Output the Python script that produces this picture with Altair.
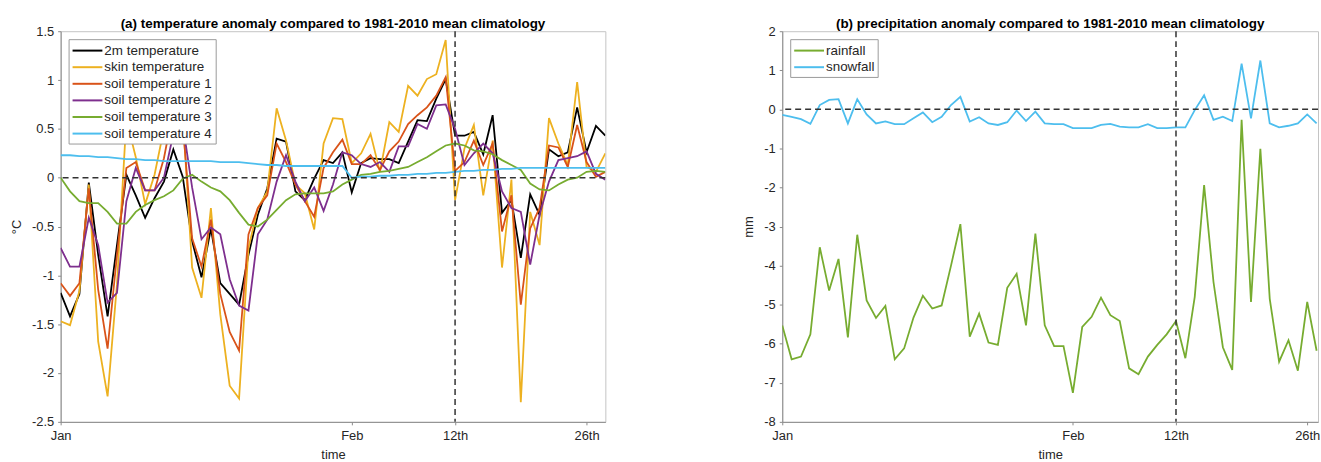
import altair as alt
import pandas as pd

# ---------------- data ----------------
days_t = list(range(59))  # Jan 1 .. Feb 28
t2m = [-1.18, -1.42, -1.19, -0.05, -0.79, -1.42, -0.69, 0.03, -0.18, -0.41,
       -0.21, -0.04, 0.29, 0.01, -0.65, -1.02, -0.52, -1.08, -1.19, -1.30,
       -0.79, -0.38, -0.11, 0.40, 0.37, -0.14, -0.23, -0.01, 0.18, 0.15,
       0.26, -0.15, 0.15, 0.20, 0.19, 0.19, 0.15, 0.37, 0.59, 0.58,
       0.81, 1.01, 0.43, 0.43, 0.47, 0.24, 0.64, -0.36, -0.23, -0.82,
       -0.17, -0.38, 0.29, 0.22, 0.26, 0.72, 0.26, 0.53, 0.43]
skin = [-1.47, -1.51, -1.16, -0.07, -1.68, -2.24, -1.09, 0.60, 0.21, -0.27,
        0.03, 0.50, 0.75, 0.65, -0.92, -1.23, -0.31, -1.40, -2.13, -2.26,
        -0.72, -0.31, -0.14, 0.71, 0.38, -0.07, -0.16, -0.53, 0.35, 0.61,
        0.60, 0.15, 0.25, 0.45, 0.06, 0.57, 0.47, 0.94, 0.84, 1.01,
        1.06, 1.41, -0.23, 0.30, 0.54, -0.18, 0.38, -0.92, -0.02, -2.30,
        -0.35, -0.69, 0.61, 0.35, 0.13, 0.98, 0.11, 0.06, 0.25]
soil1 = [-1.08, -1.21, -1.08, -0.11, -1.15, -1.75, -0.79, 0.10, 0.16, -0.13,
         -0.13, 0.20, 0.70, 0.55, -0.62, -0.91, -0.43, -1.19, -1.58, -1.77,
         -0.58, -0.31, -0.18, 0.35, 0.16, -0.07, -0.24, -0.40, 0.10, 0.26,
         0.39, 0.14, 0.14, 0.23, 0.08, 0.27, 0.37, 0.55, 0.64, 0.72,
         0.84, 1.03, 0.07, 0.16, 0.38, 0.13, 0.35, -0.55, -0.18, -1.30,
         -0.52, -0.31, 0.33, 0.31, 0.11, 0.54, 0.16, 0.01, 0.06]
soil2 = [-0.72, -0.91, -0.91, -0.41, -0.69, -1.28, -1.18, -0.24, 0.10, -0.13,
         -0.13, 0.00, 0.45, 0.55, -0.10, -0.63, -0.51, -0.58, -1.04, -1.31,
         -1.36, -0.58, -0.43, -0.04, 0.23, -0.04, -0.24, -0.10, -0.34, -0.07,
         0.26, 0.23, 0.14, 0.11, 0.16, 0.06, 0.32, 0.32, 0.55, 0.50,
         0.74, 0.75, 0.50, 0.13, 0.25, 0.35, 0.25, -0.14, -0.31, -0.35,
         -0.89, -0.38, -0.04, 0.18, 0.20, 0.22, 0.27, 0.04, -0.02]
soil3 = [0.00, -0.14, -0.24, -0.26, -0.26, -0.35, -0.47, -0.47, -0.35, -0.28,
         -0.23, -0.19, -0.13, -0.01, 0.03, -0.04, -0.10, -0.14, -0.23, -0.36,
         -0.48, -0.50, -0.43, -0.33, -0.23, -0.17, -0.16, -0.16, -0.16, -0.14,
         -0.07, -0.02, 0.03, 0.04, 0.06, 0.07, 0.09, 0.11, 0.16, 0.21,
         0.27, 0.33, 0.35, 0.33, 0.28, 0.27, 0.24, 0.18, 0.13, 0.08,
         -0.06, -0.12, -0.13, -0.07, -0.02, 0.00, 0.06, 0.07, 0.06]
soil4 = [0.23, 0.23, 0.22, 0.22, 0.21, 0.21, 0.20, 0.19, 0.19, 0.18,
         0.18, 0.17, 0.17, 0.17, 0.17, 0.17, 0.17, 0.16, 0.16, 0.16,
         0.15, 0.14, 0.13, 0.13, 0.12, 0.12, 0.12, 0.12, 0.12, 0.12,
         0.12, 0.00, 0.01, 0.01, 0.02, 0.02, 0.03, 0.03, 0.04, 0.04,
         0.05, 0.05, 0.06, 0.07, 0.07, 0.08, 0.08, 0.09, 0.09, 0.10,
         0.10, 0.10, 0.10, 0.10, 0.10, 0.10, 0.10, 0.10, 0.10]

days_p = list(range(58))  # visible part of panel (b)
rainfall = [-5.53, -6.40, -6.33, -5.76, -3.53, -4.64, -3.83, -5.84, -3.21, -4.89,
            -5.34, -5.03, -6.40, -6.12, -5.33, -4.77, -5.10, -5.02, -4.00, -2.94,
            -5.82, -5.23, -5.97, -6.03, -4.57, -4.21, -5.53, -3.18, -5.53, -6.06,
            -6.06, -7.26, -5.57, -5.31, -4.82, -5.27, -5.42, -6.63, -6.78, -6.33,
            -6.03, -5.76, -5.42, -6.37, -4.80, -1.94, -4.42, -6.09, -6.67, -0.27,
            -4.93, -1.01, -4.85, -6.46, -5.91, -6.69, -4.93, -6.18]
snowfall = [-0.14, -0.19, -0.25, -0.37, 0.11, 0.24, 0.26, -0.36, 0.26, -0.13,
            -0.36, -0.31, -0.38, -0.38, -0.23, -0.08, -0.33, -0.19, 0.11, 0.32,
            -0.31, -0.20, -0.36, -0.40, -0.33, -0.03, -0.30, -0.06, -0.36, -0.38,
            -0.38, -0.48, -0.48, -0.48, -0.40, -0.37, -0.44, -0.46, -0.46, -0.38,
            -0.48, -0.48, -0.46, -0.46, -0.02, 0.36, -0.27, -0.19, -0.30, 1.17,
            -0.23, 1.25, -0.36, -0.46, -0.42, -0.36, -0.13, -0.36]

temp_names = ["2m temperature", "skin temperature", "soil temperature 1",
              "soil temperature 2", "soil temperature 3", "soil temperature 4"]
temp_colors = ["#000000", "#EDB120", "#D95319", "#7E2F8E", "#77AC30", "#4DBEEE"]
prec_names = ["rainfall", "snowfall"]
prec_colors = ["#77AC30", "#4DBEEE"]

tick_days = [0, 31, 42, 56]
tick_labels = ["Jan", "Feb", "12th", "26th"]
event_day = [42]
zero_line = [0]

temp_ticks = [-2.5, -2, -1.5, -1, -0.5, 0, 0.5, 1, 1.5]
prec_ticks = [-8, -7, -6, -5, -4, -3, -2, -1, 0, 1, 2]

title_a = "(a) temperature anomaly compared to 1981-2010 mean climatology"
title_b = "(b) precipitation anomaly compared to 1981-2010 mean climatology"

# ---------------- tables ----------------
rows = []
for name, vals in zip(temp_names, [t2m, skin, soil1, soil2, soil3, soil4]):
    for d, v in zip(days_t, vals):
        rows.append({"day": d, "value": v, "series": name, "k": temp_names.index(name)})
df_t = pd.DataFrame(rows)

rows = []
for name, vals in zip(prec_names, [rainfall, snowfall]):
    for d, v in zip(days_p, vals):
        rows.append({"day": d, "value": v, "series": name, "k": prec_names.index(name)})
df_p = pd.DataFrame(rows)

label_expr = " : ".join(
    f"datum.value == {d} ? '{l}'" for d, l in zip(tick_days, tick_labels)
) + " : ''"

FONT = "Liberation Sans"
PW_A, PW_B, PH = 548, 539, 393


def x_axis():
    return alt.Axis(values=tick_days, labelExpr=label_expr, title="time",
                    grid=False, tickSize=3, labelPadding=5, titlePadding=6,
                    labelFlush=False, labelOverlap=False)


def y_axis(vals, title):
    return alt.Axis(values=vals, tickCount=len(vals), labelExpr="'' + datum.value",
                    title=title, grid=False, tickSize=3, labelPadding=4,
                    titlePadding=8, labelOverlap=False, labelFlush=False)


legend_common = dict(
    symbolType="M-1,0H3",
    symbolSize=225,
    symbolStrokeWidth=2,
    labelOffset=16,
    labelFontSize=13.5,
    labelFont=FONT,
    labelColor="#262626",
    rowPadding=1.7,
    padding=3,
    strokeColor="#9a9a9a",
    fillColor="white",
    title=None,
    orient="none",
    legendX=8,
    legendY=8,
)

rule_style = dict(strokeDash=[6, 4], color="#333333", strokeWidth=1.5)
title_style = dict(fontSize=13.5, fontWeight="bold", font=FONT, color="black", offset=-5)


def panel(df, names, colors, xmax, ydom, yticks, ytitle, ptitle, width):
    xs = alt.Scale(domain=[0, xmax], nice=False, zero=False)
    ys = alt.Scale(domain=ydom, nice=False)
    lines = alt.Chart(df).mark_line(strokeWidth=1.8, clip=True).encode(
        x=alt.X("day:Q", scale=xs, axis=x_axis()),
        y=alt.Y("value:Q", scale=ys, axis=y_axis(yticks, ytitle)),
        color=alt.Color("series:N",
                        scale=alt.Scale(domain=names, range=colors),
                        legend=alt.Legend(**legend_common)),
        order="k:Q",
    )
    hz = alt.Chart(pd.DataFrame({"value": zero_line})).mark_rule(**rule_style).encode(
        y=alt.Y("value:Q", scale=ys, axis=y_axis(yticks, ytitle)))
    vt = alt.Chart(pd.DataFrame({"day": event_day})).mark_rule(**rule_style).encode(
        x=alt.X("day:Q", scale=xs, axis=x_axis()))
    return alt.layer(lines, hz, vt).properties(
        width=width, height=PH, title=alt.TitleParams(ptitle, **title_style))


panel_a = panel(df_t, temp_names, temp_colors, 58, [-2.5, 1.5], temp_ticks, "°C", title_a, PW_A)
panel_b = panel(df_p, prec_names, prec_colors, 57.15, [-8, 2], prec_ticks, "mm", title_b, PW_B)

chart = alt.hconcat(panel_a, panel_b, spacing=135).resolve_scale(
    color="independent", x="independent", y="independent"
).resolve_legend(color="independent").properties(
    padding={"left": 10, "top": 15, "right": 0, "bottom": 0},
    background="white",
).configure_view(
    stroke="#c4c4c4", strokeWidth=1
).configure_axis(
    labelFont=FONT, labelFontSize=13, labelColor="#262626",
    titleFont=FONT, titleFontSize=13, titleColor="#262626", titleFontWeight="normal",
    domainColor="#8a8a8a", tickColor="#8a8a8a",
)

chart.save("out.html", embed_options={"renderer": "svg", "actions": False})
